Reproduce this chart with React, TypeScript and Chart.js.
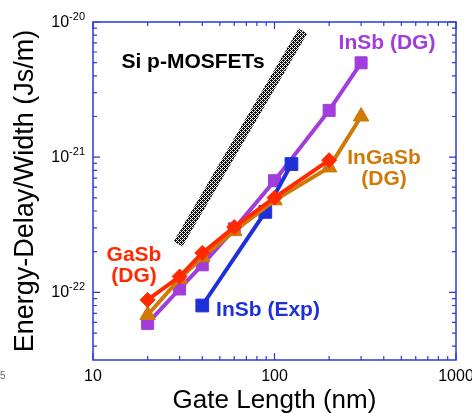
import React, { useEffect, useRef } from 'react';
import { Chart, registerables } from 'chart.js';

Chart.register(...registerables);

// ---- data ----
const gateLengthDG = [20, 30, 40, 60, 100, 200, 300];
const insbDG = [5.9e-23, 1.06e-22, 1.6e-22, 2.95e-22, 6.7e-22, 2.22e-21, 4.99e-21];
const ingasbDG = [6.8e-23, 1.26e-22, 1.82e-22, 2.84e-22, 4.8e-22, 8.4e-22, 2.0e-21];
const gasbGateLength = [20, 30, 40, 60, 100, 200];
const gasbDG = [8.8e-23, 1.31e-22, 1.96e-22, 3.04e-22, 5.02e-22, 9.5e-22];
const insbExpGateLength = [40, 89, 124];
const insbExp = [8.0e-23, 3.94e-22, 8.9e-22];
const siBandGateLength = [29.4, 143.5];
const siBand = [2.28e-22, 8.57e-21];

const xTickValues = [10, 100, 1000];
const xTickLabels = ['10', '100', '1000'];
const yTickValues = [1e-20, 1e-21, 1e-22];
const yTickExponents = ['-20', '-21', '-22'];

const X_MIN = 10;
const X_MAX = 1000;
const Y_MIN = Math.pow(10, -22.5);
const Y_MAX = 1e-20;

const xTitle = 'Gate Length (nm)';
const yTitle = 'Energy-Delay/Width (Js/m)';

const PURPLE = '#a23ddc';
const ORANGE = '#cf7a06';
const RED = '#ff2a00';
const BLUE = '#2030d8';
const AXIS = '#2a3ad8';
const FONT = '"Liberation Sans", Arial, Helvetica, sans-serif';

function pts(xs: number[], ys: number[]) {
  return xs.map((x, i) => ({ x, y: ys[i] }));
}

function makePattern(): CanvasPattern | string {
  const c = document.createElement('canvas');
  c.width = 4;
  c.height = 4;
  const g = c.getContext('2d');
  if (!g) return '#555';
  g.fillStyle = '#ffffff';
  g.fillRect(0, 0, 4, 4);
  g.fillStyle = '#111111';
  const dark = [
    [0, 0], [2, 0], [3, 0],
    [1, 1], [3, 1],
    [0, 2], [1, 2], [2, 2],
    [1, 3], [3, 3],
  ];
  dark.forEach(([px, py]) => g.fillRect(px, py, 1, 1));
  const p = g.createPattern(c, 'repeat');
  return p || '#555';
}

function minorValues(lo: number, hi: number, dMin: number, dMax: number) {
  const out: number[] = [];
  for (let d = dMin; d <= dMax; d++) {
    for (let k = 2; k <= 9; k++) {
      const v = k * Math.pow(10, d);
      if (v > lo * 1.0001 && v < hi * 0.9999) out.push(v);
    }
  }
  return out;
}

const framePlugin = {
  id: 'framePlugin',
  afterDatasetsDraw(chart: any) {
    const { ctx, chartArea: a, scales } = chart;
    const xs = scales.x;
    const ys = scales.y;
    ctx.save();
    // frame
    ctx.strokeStyle = AXIS;
    ctx.lineWidth = 1.5;
    ctx.strokeRect(a.left, a.top, a.right - a.left, a.bottom - a.top);
    ctx.lineWidth = 1.2;
    ctx.beginPath();
    const xMinor = minorValues(X_MIN, X_MAX, 1, 2);
    const yMinor = minorValues(Y_MIN, Y_MAX, -23, -21);
    const tickX = (v: number, len: number) => {
      const px = xs.getPixelForValue(v);
      ctx.moveTo(px, a.bottom);
      ctx.lineTo(px, a.bottom - len);
      ctx.moveTo(px, a.top);
      ctx.lineTo(px, a.top + len);
    };
    const tickY = (v: number, len: number) => {
      const py = ys.getPixelForValue(v);
      ctx.moveTo(a.left, py);
      ctx.lineTo(a.left + len, py);
      ctx.moveTo(a.right, py);
      ctx.lineTo(a.right - len, py);
    };
    xTickValues.forEach((v) => tickX(v, 7));
    xMinor.forEach((v) => tickX(v, 4));
    yTickValues.forEach((v) => tickY(v, 7));
    yMinor.forEach((v) => tickY(v, 4));
    ctx.stroke();

    // x tick labels
    ctx.fillStyle = '#000';
    ctx.font = `16px ${FONT}`;
    ctx.textAlign = 'center';
    ctx.textBaseline = 'alphabetic';
    xTickValues.forEach((v, i) => {
      ctx.fillText(xTickLabels[i], xs.getPixelForValue(v), 381);
    });

    // y tick labels with superscripts
    yTickValues.forEach((v, i) => {
      const py = ys.getPixelForValue(v);
      const right = a.left - 8;
      ctx.font = `11px ${FONT}`;
      const ew = ctx.measureText(yTickExponents[i]).width;
      ctx.textAlign = 'right';
      ctx.fillText(yTickExponents[i], right, py - 2);
      ctx.font = `16px ${FONT}`;
      ctx.fillText('10', right - ew, py + 5);
    });

    // stray label at bottom-left
    ctx.font = `10px ${FONT}`;
    ctx.fillStyle = '#666';
    ctx.textAlign = 'left';
    ctx.fillText('5', 0, 379);

    // axis titles
    ctx.fillStyle = '#000';
    ctx.font = `26px ${FONT}`;
    ctx.textAlign = 'center';
    ctx.fillText(xTitle, (a.left + a.right) / 2, 408);
    ctx.save();
    ctx.translate(33, (a.top + a.bottom) / 2);
    ctx.rotate(-Math.PI / 2);
    ctx.font = `27px ${FONT}`;
    ctx.fillText(yTitle, 0, 0);
    ctx.restore();

    // annotations
    ctx.textBaseline = 'middle';
    ctx.textAlign = 'center';
    ctx.font = `bold 21px ${FONT}`;
    const notes: [string, number, number, string][] = [
      ['Si p-MOSFETs', 193, 62, '#000'],
      ['InSb (DG)', 387, 43, PURPLE],
      ['InGaSb', 384, 158, ORANGE],
      ['(DG)', 384, 179, ORANGE],
      ['GaSb', 134, 255, RED],
      ['(DG)', 134, 276, RED],
      ['InSb (Exp)', 268, 310, BLUE],
    ];
    notes.forEach(([t, x, y, c]) => {
      ctx.fillStyle = c;
      ctx.fillText(t, x, y);
    });
    ctx.restore();
  },
};

export default function App() {
  const ref = useRef<HTMLCanvasElement | null>(null);
  useEffect(() => {
    document.body.style.margin = '0';
    const canvas = ref.current;
    if (!canvas) return;
    const chart = new Chart(canvas, {
      type: 'line',
      data: {
        datasets: [
          {
            label: 'GaSb (DG)',
            data: pts(gasbGateLength, gasbDG),
            borderColor: RED,
            backgroundColor: RED,
            pointBackgroundColor: RED,
            pointBorderColor: RED,
            pointStyle: 'rectRot',
            pointRadius: 7.5,
            pointBorderWidth: 1,
            borderWidth: 4,
            order: 1,
          },
          {
            label: 'InGaSb (DG)',
            data: pts(gateLengthDG, ingasbDG),
            borderColor: ORANGE,
            backgroundColor: ORANGE,
            pointBackgroundColor: ORANGE,
            pointBorderColor: ORANGE,
            pointStyle: 'triangle',
            pointRadius: 9,
            pointBorderWidth: 1,
            borderWidth: 4,
            order: 2,
          },
          {
            label: 'InSb (Exp)',
            data: pts(insbExpGateLength, insbExp),
            borderColor: BLUE,
            backgroundColor: BLUE,
            pointBackgroundColor: BLUE,
            pointBorderColor: BLUE,
            pointStyle: 'rect',
            pointRadius: 9,
            pointBorderWidth: 1,
            borderWidth: 4,
            order: 3,
          },
          {
            label: 'InSb (DG)',
            data: pts(gateLengthDG, insbDG),
            borderColor: PURPLE,
            backgroundColor: PURPLE,
            pointBackgroundColor: PURPLE,
            pointBorderColor: PURPLE,
            pointStyle: 'rect',
            pointRadius: 8.5,
            pointBorderWidth: 1,
            borderWidth: 4,
            order: 4,
          },
          {
            label: 'Si p-MOSFETs',
            data: pts(siBandGateLength, siBand),
            borderColor: makePattern() as any,
            borderWidth: 10,
            borderCapStyle: 'butt',
            pointRadius: 0,
            order: 5,
          },
        ],
      },
      options: {
        animation: false,
        responsive: false,
        devicePixelRatio: 1,
        layout: { padding: { left: 93, top: 22, right: 16, bottom: 53 } },
        plugins: { legend: { display: false }, tooltip: { enabled: false } },
        elements: { line: { tension: 0 } },
        scales: {
          x: { type: 'logarithmic', min: X_MIN, max: X_MAX, display: false },
          y: { type: 'logarithmic', min: Y_MIN, max: Y_MAX, display: false },
        },
      },
      plugins: [framePlugin],
    });
    return () => chart.destroy();
  }, []);
  return (
    <div style={{ width: 472, height: 413, background: '#fff' }}>
      <canvas ref={ref} width={472} height={413} style={{ display: 'block' }} />
    </div>
  );
}
